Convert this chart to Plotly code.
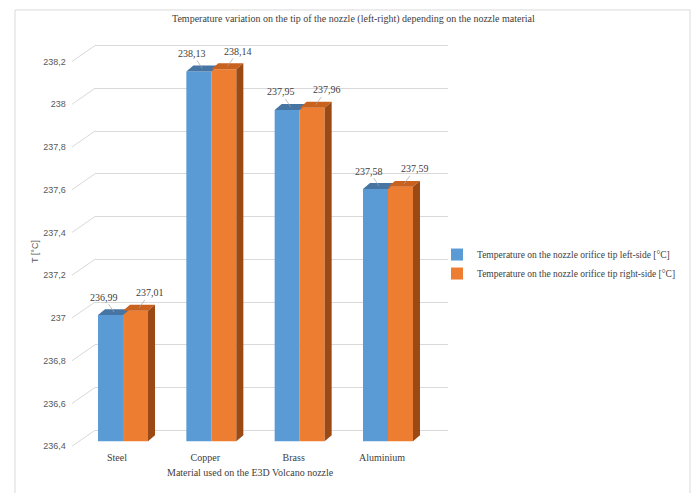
import plotly.graph_objects as go

# ---- data ----
materials = ["Steel", "Copper", "Brass", "Aluminium"]
left_side = [236.99, 238.13, 237.95, 237.58]
right_side = [237.01, 238.14, 237.96, 237.59]
series_names = ["Temperature on the nozzle orifice tip left-side [°C]",
                "Temperature on the nozzle orifice tip right-side [°C]"]
y_ticks = [236.4, 236.6, 236.8, 237.0, 237.2, 237.4, 237.6, 237.8, 238.0, 238.2]
title_text = "Temperature variation on the tip of the nozzle (left-right) depending on the nozzle material"
x_title = "Material used on the E3D Volcano nozzle"
y_title = "T [°C]"

# ---- layout geometry (pixels) ----
W, H = 697, 493
S = 214.6          # px per °C
BASE = 236.4
CAT = 88.325       # px per category
DX, DY = 7, 6      # depth of the 3D faces, px

def ydom(py0, lo, hi):
    b = py0 - (lo - BASE) * S
    t = py0 - (hi - BASE) * S
    return [1 - b / H, 1 - t / H]

blue, orange = "#5B9BD5", "#ED7D31"
blue_top, orange_top, orange_side = "#4775A3", "#C9611F", "#9B4A16"
serif = "Liberation Serif"
sans = "Liberation Sans"

fig = go.Figure()
nx = list(range(len(materials)))
# empty helper traces so that the back-wall and front-axis subplots are drawn
fig.add_trace(go.Scatter(x=[None], y=[None], xaxis="x", yaxis="y", showlegend=False,
                         hoverinfo="skip", mode="markers"))
fig.add_trace(go.Scatter(x=[None], y=[None], xaxis="x2", yaxis="y2", showlegend=False,
                         hoverinfo="skip", mode="markers"))
fig.add_trace(go.Bar(x=nx, y=left_side, name=series_names[0], marker_color=blue,
                     marker_line_width=0, xaxis="x3", yaxis="y3"))
fig.add_trace(go.Bar(x=nx, y=right_side, name=series_names[1], marker_color=orange,
                     marker_line_width=0, xaxis="x3", yaxis="y3"))

grid_rng = [236.38, 238.22]
bar_rng = [BASE, 238.4]
bw = 25 / CAT
dxu = DX / CAT
dyu = DY / S

shapes = []
annotations = []
for i in nx:
    vb, vo = left_side[i], right_side[i]
    xl_b, xr_b = i - bw, i
    xl_o, xr_o = i, i + bw
    # top faces
    for xl, xr, v, col in [(xl_b, xr_b, vb, blue_top), (xl_o, xr_o, vo, orange_top)]:
        shapes.append(dict(type="path", xref="x3", yref="y3", layer="above",
                           path=f"M{xl},{v} L{xr},{v} L{xr+dxu},{v+dyu} L{xl+dxu},{v+dyu} Z",
                           fillcolor=col, line=dict(width=0)))
    # side face
    shapes.append(dict(type="path", xref="x3", yref="y3", layer="above",
                       path=f"M{xr_o},{BASE} L{xr_o},{vo} L{xr_o+dxu},{vo+dyu} L{xr_o+dxu},{BASE+dyu} Z",
                       fillcolor=orange_side, line=dict(width=0)))
    # data labels
    for xc, v, ax in [(i - bw / 2, vb, -10), (i + bw / 2, vo, 11)]:
        annotations.append(dict(x=xc + dxu / 2, y=v + dyu / 2, xref="x3", yref="y3",
                                text=f"{v:.2f}".replace(".", ","), showarrow=True,
                                arrowhead=0, arrowwidth=0.7, arrowcolor="#A6A6A6",
                                ax=ax, ay=-15, standoff=0,
                                font=dict(family=serif, size=10, color="#404040")))

# perspective connectors between front ticks and back wall gridlines
for v in y_ticks:
    yf = 447 - (v - BASE) * S
    yb = 431 - (v - BASE) * S
    shapes.append(dict(type="line", xref="paper", yref="paper", layer="below",
                       x0=72 / W, y0=1 - yf / H, x1=95 / W, y1=1 - yb / H,
                       line=dict(color="#D9D9D9", width=1)))

# chart border
shapes.append(dict(type="rect", xref="paper", yref="paper", layer="below",
                   x0=15 / W, y0=1 - 505 / H, x1=690 / W, y1=1 - 9 / H,
                   line=dict(color="#D9D9D9", width=1)))

annotations += [
    dict(text=title_text, x=353 / W, y=1 - 18 / H, xref="paper", yref="paper",
         xanchor="center", yanchor="middle",
         showarrow=False, font=dict(family=serif, size=10, color="#404040")),
    dict(text=x_title, x=250 / W, y=1 - 473 / H, xref="paper", yref="paper",
         xanchor="center", yanchor="middle",
         showarrow=False, font=dict(family=serif, size=10, color="#404040")),
    dict(text=y_title, x=35 / W, y=1 - 252 / H, xref="paper", yref="paper",
         xanchor="center", yanchor="middle",
         showarrow=False, textangle=-90, font=dict(family=sans, size=9, color="#595959")),
]

fig.update_layout(
    width=W, height=H, margin=dict(l=0, r=0, t=0, b=0),
    paper_bgcolor="white", plot_bgcolor="rgba(0,0,0,0)",
    separators=", ",
    barmode="group", bargap=1 - 2 * bw, bargroupgap=0,
    showlegend=True,
    legend=dict(x=437 / W, y=1 - 240 / H, xanchor="left", yanchor="top",
                font=dict(family=serif, size=9.5, color="#404040"),
                bgcolor="rgba(0,0,0,0)", tracegroupgap=0, itemwidth=30),
    # back wall gridlines
    xaxis=dict(domain=[95 / W, 448 / W], range=[0, 1], showgrid=False, zeroline=False,
               showticklabels=False, showline=False, ticks="", anchor="y"),
    yaxis=dict(domain=ydom(431, *grid_rng), range=grid_rng, tickvals=y_ticks,
               showgrid=True, gridcolor="#D9D9D9", gridwidth=1, zeroline=False,
               showticklabels=False, showline=False, ticks="", anchor="x"),
    # front axis: tick labels
    xaxis2=dict(domain=[72.85 / W, 426.15 / W], range=[-0.5, 3.5], tickvals=nx,
                ticktext=materials, showgrid=False, zeroline=False, showline=False,
                ticks="", ticklabelstandoff=0,
                tickfont=dict(family=serif, size=10, color="#404040"), anchor="y2"),
    yaxis2=dict(domain=ydom(447, *grid_rng), range=grid_rng, tickvals=y_ticks,
                showgrid=False, zeroline=False, showline=False, ticks="",
                ticklabelstandoff=6,
                tickfont=dict(family=sans, size=9, color="#595959"), anchor="x2"),
    # bar axes
    xaxis3=dict(domain=[78.85 / W, 432.15 / W], range=[-0.5, 3.5], visible=False, anchor="y3"),
    yaxis3=dict(domain=ydom(442, *bar_rng), range=bar_rng, visible=False, anchor="x3"),
    shapes=shapes, annotations=annotations,
)

fig.write_html("out.html")
